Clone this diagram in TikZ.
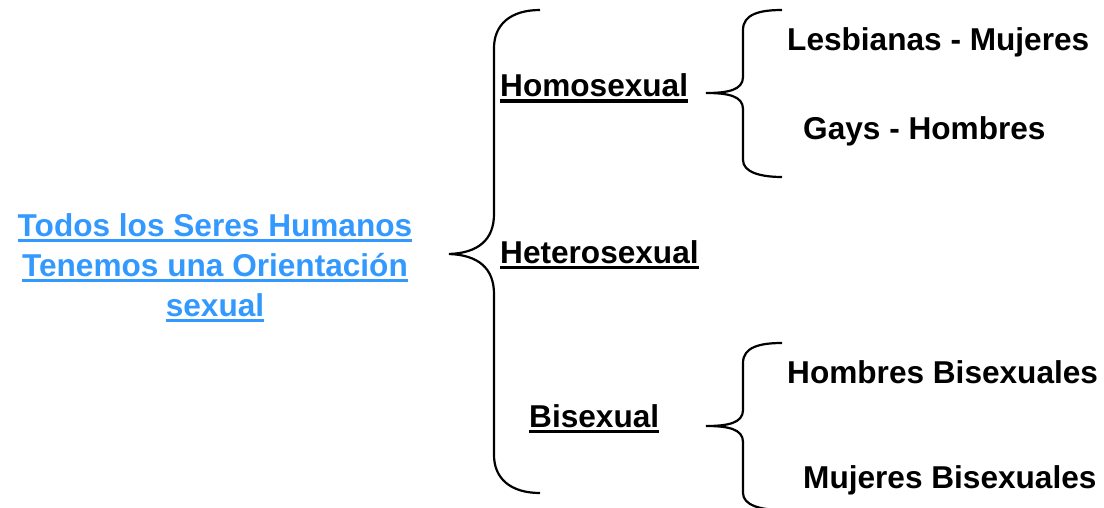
\documentclass[tikz,border=0pt]{standalone}
\usepackage{fontspec}
\setmainfont{Liberation Sans}
\definecolor{linkblue}{HTML}{3399FF}
\newcommand\ulx[1]{\setbox0\hbox{#1}\rlap{\rule[-6pt]{\wd0}{3.5pt}}\box0}
\begin{document}
\begin{tikzpicture}[x=1pt,y=-1pt,
  lbl/.style={inner sep=0pt, font=\fontsize{31.6}{40}\selectfont\bfseries},
  bracket/.style={line width=2.2pt, black}]
\useasboundingbox (0,0) rectangle (1104,508);
% title
\node[lbl, text=linkblue, align=center, anchor=base] (title) at (215,316)
  {\ulx{Todos los Seres Humanos}\\\ulx{Tenemos una Orientación}\\\ulx{sexual}};
% level 1
\node[lbl, anchor=base west] (homo) at (500,97) {\ulx{Homosexual}};
\node[lbl, anchor=base west] (hetero) at (500,263) {\ulx{Heterosexual}};
\node[lbl, anchor=base west] (bi) at (529,427) {\ulx{Bisexual}};
% level 2
\node[lbl, anchor=base west] (lesb) at (787,51) {Lesbianas - Mujeres};
\node[lbl, anchor=base west] (gays) at (803,140) {Gays - Hombres};
\node[lbl, anchor=base west] (hbi) at (787,383) {Hombres Bisexuales};
\node[lbl, anchor=base west] (mbi) at (803,488) {Mujeres Bisexuales};
% big brace
\draw[bracket] (540,10) .. controls (510,10) and (494,25) .. (494,48)
  -- (494,214) .. controls (494,240) and (478,253) .. (449,254)
  .. controls (478,255) and (494,268) .. (494,294)
  -- (494,455) .. controls (494,478) and (510,493) .. (540,493);
% small braces
\foreach \dy in {0,333}{
\draw[bracket] (782,10+\dy) .. controls (760,10+\dy) and (743,14+\dy) .. (743,30+\dy)
  -- (743,77+\dy) .. controls (743,90+\dy) and (728,93+\dy) .. (706,93+\dy)
  .. controls (728,93+\dy) and (743,96+\dy) .. (743,109+\dy)
  -- (743,160+\dy) .. controls (743,172+\dy) and (760,177+\dy) .. (782,177+\dy);
}
\end{tikzpicture}
\end{document}
